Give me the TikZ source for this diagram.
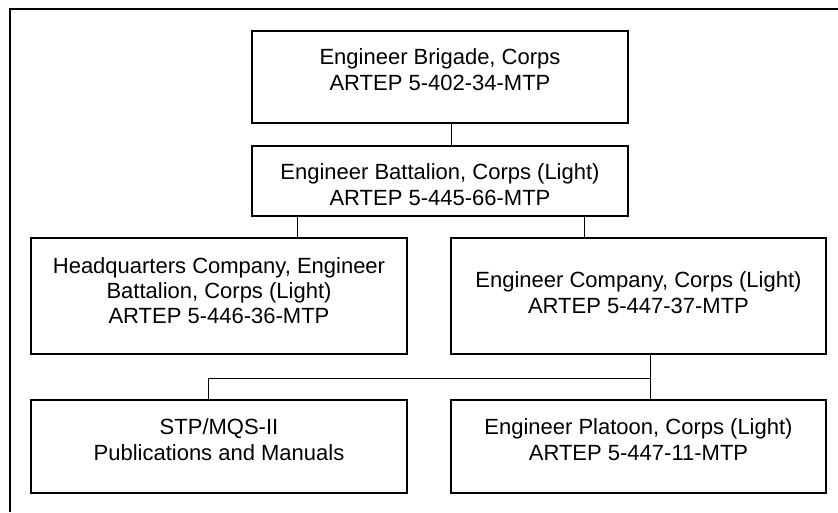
\documentclass[tikz,border=0pt]{standalone}
\usepackage{fontspec}
\setmainfont{Liberation Sans}
\begin{document}
\begin{tikzpicture}[x=1pt,y=-1pt,
  unitbox/.style={draw=black,line width=1.2pt,rectangle,inner sep=0pt,minimum width=376pt},
  boxtext/.style={inner sep=0pt,anchor=base,font=\fontsize{22}{25}\selectfont},
  link/.style={draw=black,line width=1pt}]
\useasboundingbox (0,0) rectangle (838,512);
% frame (cut off at right and bottom)
\draw[line width=1.2pt] (10,512) -- (10,9) -- (838,9);
% boxes
\node[unitbox,minimum height=92pt] (brigade) at (440,77) {};
\node[unitbox,minimum height=70pt] (battalion) at (440,181) {};
\node[unitbox,minimum height=116pt] (hq) at (219,296) {};
\node[unitbox,minimum height=116pt,minimum width=375pt] (company) at (638.5,296) {};
\node[unitbox,minimum height=93pt] (stp) at (219,446.5) {};
\node[unitbox,minimum height=93pt,minimum width=375pt] (platoon) at (638.5,446.5) {};
% texts
\node[boxtext] (brigadeA) at (440,64) {Engineer Brigade, Corps};
\node[boxtext] (brigadeB) at (440,90) {ARTEP 5-402-34-MTP};
\node[boxtext] (battalionA) at (440,179) {Engineer Battalion, Corps (Light)};
\node[boxtext] (battalionB) at (440,205) {ARTEP 5-445-66-MTP};
\node[boxtext] (hqA) at (219,273) {Headquarters Company, Engineer};
\node[boxtext] (hqB) at (219,298) {Battalion, Corps (Light)};
\node[boxtext] (hqC) at (219,323) {ARTEP 5-446-36-MTP};
\node[boxtext] (companyA) at (638.5,287) {Engineer Company, Corps (Light)};
\node[boxtext] (companyB) at (638.5,313) {ARTEP 5-447-37-MTP};
\node[boxtext] (stpA) at (219,434) {STP/MQS-II};
\node[boxtext] (stpB) at (219,460) {Publications and Manuals};
\node[boxtext] (platoonA) at (638.5,434) {Engineer Platoon, Corps (Light)};
\node[boxtext] (platoonB) at (638.5,460) {ARTEP 5-447-11-MTP};
% connectors
\draw[link] ([xshift=11pt]brigade.south) -- ([xshift=11pt]battalion.north);
\draw[link] ([xshift=78pt]hq.north) -- ([xshift=78pt]hq.north |- battalion.south);
\draw[link] ([xshift=-54.5pt]company.north) -- ([xshift=-54.5pt]company.north |- battalion.south);
\draw[link] ([xshift=11.5pt]company.south) -- ([xshift=11.5pt]platoon.north);
\coordinate (bus) at (650,378);
\draw[link] ([xshift=-11pt]stp.north) |- (bus);
\end{tikzpicture}
\end{document}
